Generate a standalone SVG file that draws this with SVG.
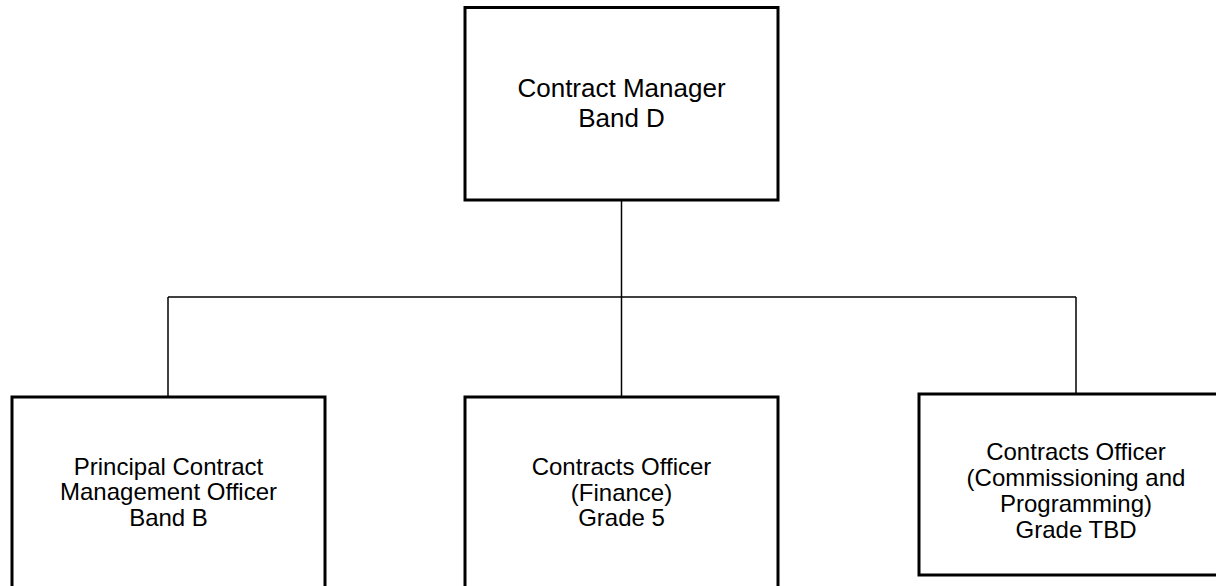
<svg xmlns="http://www.w3.org/2000/svg" width="1216" height="586" viewBox="0 0 1216 586">
<style>
.box{fill:#fff;stroke:#000;stroke-width:3}
.conn{fill:none;stroke:#000;stroke-width:1.5}
text{font-family:"Liberation Sans",Arial,sans-serif;fill:#000;text-anchor:middle}
.t1{font-size:26px}
.t2{font-size:24px}
</style>
<rect width="1216" height="586" fill="#fff"/>
<g id="connectors">
<line class="conn" x1="621.5" y1="200" x2="621.5" y2="297"/>
<line class="conn" x1="168" y1="297" x2="1076" y2="297"/>
<line class="conn" x1="168" y1="297" x2="168" y2="397"/>
<line class="conn" x1="621.5" y1="297" x2="621.5" y2="397"/>
<line class="conn" x1="1076" y1="297" x2="1076" y2="394"/>
</g>
<g id="node-manager">
<rect class="box" x="465" y="7.5" width="313" height="192.5"/>
<text class="t1" x="621.5" y="97">Contract Manager</text>
<text class="t1" x="621.5" y="126.5">Band D</text>
</g>
<g id="node-principal">
<rect class="box" x="12" y="397" width="313" height="200"/>
<text class="t2" x="168.5" y="474.5">Principal Contract</text>
<text class="t2" x="168.5" y="500">Management Officer</text>
<text class="t2" x="168.5" y="525.5">Band B</text>
</g>
<g id="node-finance">
<rect class="box" x="465" y="397" width="313" height="200"/>
<text class="t2" x="621.5" y="475">Contracts Officer</text>
<text class="t2" x="621.5" y="500.5">(Finance)</text>
<text class="t2" x="621.5" y="525.5">Grade 5</text>
</g>
<g id="node-commissioning">
<rect class="box" x="919" y="394" width="310" height="181"/>
<text class="t2" x="1076" y="460">Contracts Officer</text>
<text class="t2" x="1076" y="486">(Commissioning and</text>
<text class="t2" x="1076" y="512">Programming)</text>
<text class="t2" x="1076" y="538">Grade TBD</text>
</g>
</svg>
